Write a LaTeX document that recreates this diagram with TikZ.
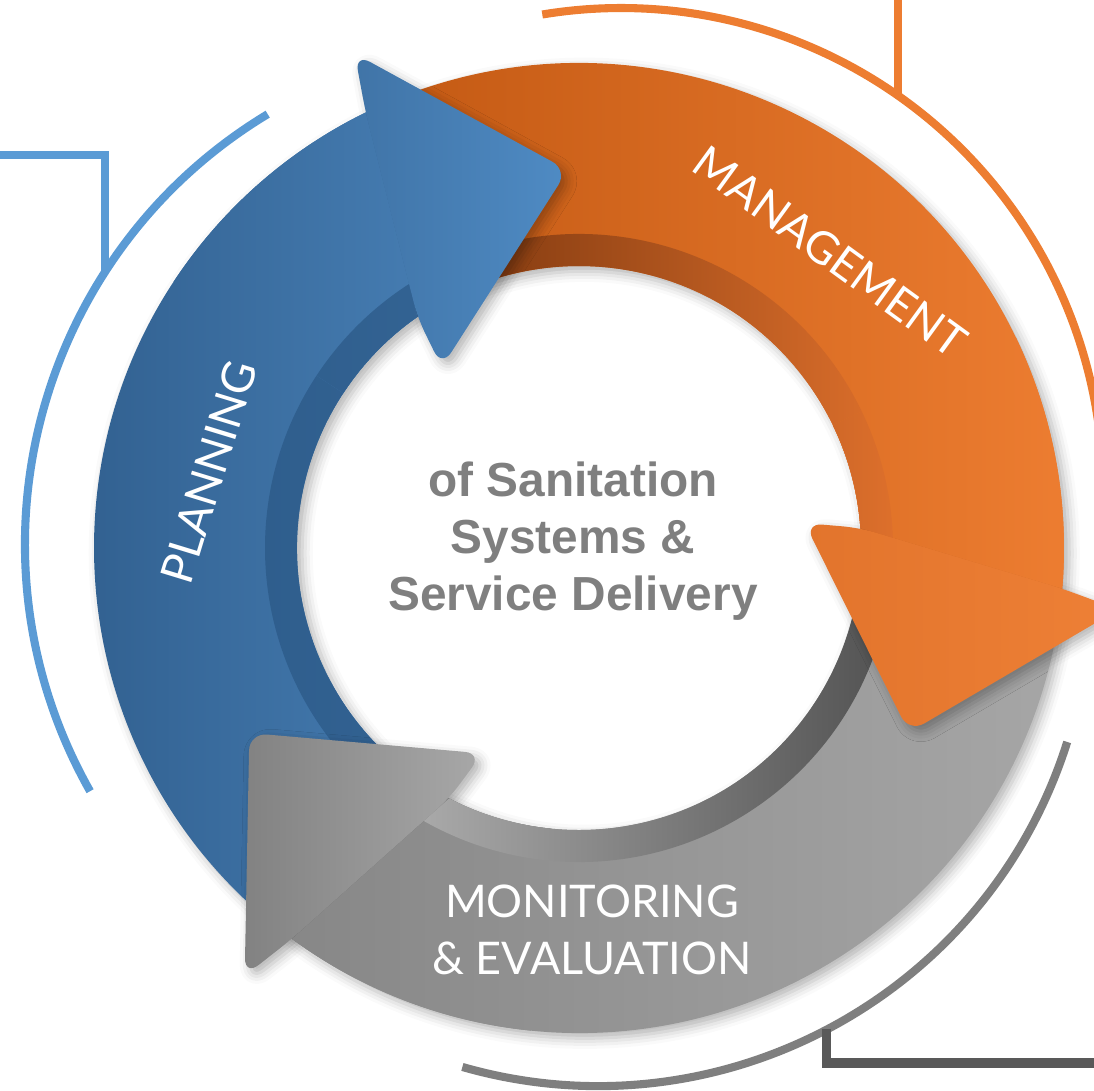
\documentclass[tikz,border=0pt]{standalone}
\usepackage{fontspec}
\setsansfont{Liberation Sans}
\newfontfamily\labelfont{Lato}
\usetikzlibrary{calc,shadows.blur}
\definecolor{planblue}{HTML}{5B9BD5}
\definecolor{mgmtorange}{HTML}{ED7D31}
\definecolor{evalgray}{HTML}{7F7F7F}
\definecolor{evaldark}{HTML}{595959}
\definecolor{hubgray}{HTML}{7F7F7F}
% ring colours: body left/right, inner rim left/right, head left/right
\definecolor{planA}{RGB}{47,93,140}   \definecolor{planB}{RGB}{72,128,182}
\definecolor{planC}{RGB}{46,93,140}   \definecolor{planD}{RGB}{52,100,148}
\definecolor{planE}{RGB}{64,116,167}  \definecolor{planF}{RGB}{79,139,196}
\definecolor{mgmtA}{RGB}{196,90,20}   \definecolor{mgmtB}{RGB}{237,125,49}
\definecolor{mgmtC}{RGB}{130,58,16}   \definecolor{mgmtD}{RGB}{222,112,44}
\definecolor{mgmtE}{RGB}{226,116,44}  \definecolor{mgmtF}{RGB}{238,128,54}
\definecolor{evalA}{RGB}{134,134,134} \definecolor{evalB}{RGB}{166,166,166}
\definecolor{evalC}{RGB}{178,178,178} \definecolor{evalD}{RGB}{82,82,82}
\definecolor{evalE}{RGB}{130,130,130} \definecolor{evalF}{RGB}{168,168,168}

% one arm of the ring: #1 end angle, #2 tail angle, #3 colour prefix
\newcommand\armbody[3]{%
  \shade[left color=#3A, right color=#3B] (#2:4.85) arc[start angle=#2, end angle=#1, radius=4.85]
    -- (#1:2.82) arc[start angle=#1, end angle=#2, radius=2.82] -- cycle;
  \shade[left color=#3C, right color=#3D] (#2:3.14) arc[start angle=#2, end angle=#1, radius=3.14]
    -- (#1:2.82) arc[start angle=#1, end angle=#2, radius=2.82] -- cycle;
}

\begin{document}
\begin{tikzpicture}[
  ring/.style={line width=2.3pt},
  lbl/.style={text=white, font=\labelfont\fontsize{12.8}{16.2}\selectfont, align=center},
  hub/.style={text=hubgray, font=\sffamily\bfseries\fontsize{13.6}{16.3}\selectfont, align=center},
  headcorner/.style={rounded corners=5pt},
  soft/.style={blur shadow={shadow xshift=1.5pt, shadow yshift=-1.5pt, shadow blur radius=3pt, shadow opacity=30}},
]
\useasboundingbox (-5.79,-5.42) rectangle (5.15,5.48);
\clip (-5.79,-5.42) rectangle (5.15,5.48);

% outer arcs with their brackets
\coordinate (planc) at (-0.52,0.04);
\coordinate (mgmtc) at (0.42,0.58);
\coordinate (evalc) at (0.19,-0.46);
\draw[ring, planblue] ($(planc)+(121.1:5.02)$) arc[start angle=121.1, end angle=209.5, radius=5.02];
\draw[ring, mgmtorange] ($(mgmtc)+(99.4:4.82)$) arc[start angle=99.4, end angle=-2, radius=4.82];
\draw[ring, evalgray] ($(evalc)+(-17.5:4.92)$) arc[start angle=-17.5, end angle=-106, radius=4.92];
\coordinate (planjoin) at ($(planc)+(147.2:5.02)$);
\coordinate (planend) at (-5.95,3.93);
\coordinate (mgmtjoin) at ($(mgmtc)+(54.9:4.82)$);
\coordinate (mgmtend) at ($(mgmtjoin)+(0,1.2)$);
\coordinate (evaljoin) at ($(evalc)+(-62.27:4.92)$);
\coordinate (evalend) at (5.3,-5.15);
\draw[ring, planblue] (planjoin) |- (planend);
\draw[ring, mgmtorange] (mgmtjoin) -- (mgmtend);
\draw[ring, evaldark, line width=2.6pt] (evaljoin) |- (evalend);

% arrow bodies, with a soft shadow
\foreach \p/\q/\c in {91.7/209.3/plan, -29.2/91.7/mgmt, -150.7/-29.2/eval} {
  \pgfmathsetmacro\a{\p+20}
  \pgfmathsetmacro\b{\q+20}
  \fill[soft, white, opacity=0] (\b:4.85) arc[start angle=\b, end angle=\a, radius=4.85]
    -- (\a:2.82) arc[start angle=\a, end angle=\b, radius=2.82] -- cycle;
  \armbody{\a}{\b}{\c}
}

% arrow heads: shadow falls on the next arm only
\foreach \p/\q/\c in {91.7/209.3/plan, -29.2/91.7/mgmt, -150.7/-29.2/eval} {
  \pgfmathsetmacro\a{\p+20}
  \pgfmathsetmacro\b{\q+20}
  \pgfmathsetmacro\n{\p+24.4}
  \pgfmathsetmacro\m{\p+33.3}
  \pgfmathsetmacro\r{\p+55}
  \shade[soft, headcorner, left color=\c E, right color=\c F]
    (\n:4.85) -- ({\p+22.7}:5.43) -- (\p:3.78) -- ({\p+35.5}:2.27) -- (\m:2.82) -- cycle;
  \begin{scope}
    \clip (\n:4.85) arc[start angle=\n, end angle=\r, radius=4.85]
      -- (\r:2.82) arc[start angle=\r, end angle=\m, radius=2.82] -- cycle;
    \armbody{\a}{\b}{\c}
  \end{scope}
}

% labels
\node[lbl, rotate=73] (plan) at (-3.70,0.76) {PLANNING};
\node[lbl, rotate=-36] (mgmt) at (2.51,2.96) {MANAGEMENT};
\node[lbl] (eval) at (0.13,-3.82) {MONITORING\\\& EVALUATION};
\node[hub] (hub) at (-0.06,0.07) {of Sanitation\\Systems \&\\Service Delivery};
\end{tikzpicture}
\end{document}
